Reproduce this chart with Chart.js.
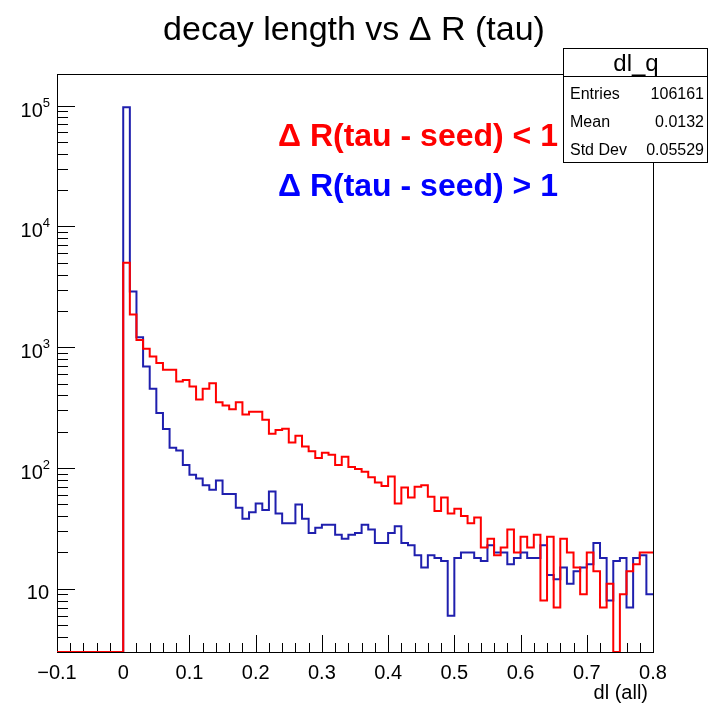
<!DOCTYPE html>
<html>
<head>
<meta charset="utf-8">
<title>decay length vs dR (tau)</title>
<script src="https://cdn.jsdelivr.net/npm/chart.js@4.4.1/dist/chart.umd.min.js"></script>
<style>
  html, body { margin: 0; padding: 0; background: #fff; }
  #wrap { width: 709px; height: 705px; }
</style>
</head>
<body>
<div id="wrap"><canvas id="dl_chart" width="709" height="705"></canvas></div>
<script>
var FONT = '"Liberation Sans", Arial, Helvetica, sans-serif';

// binning of the dl histograms: 90 bins of 0.01 starting at -0.1
var bin_low = -0.1;
var bin_width = 0.01;

// bin contents, dR(tau - seed) < 1
var counts_close = [
    0, 0, 0, 0, 0, 0, 0, 0, 0, 0,
    5000, 1870, 1150, 970, 840, 740, 650, 650, 520, 537,
    473, 369, 453, 503, 351, 329, 307, 351, 277, 292,
    292, 251, 192, 207, 212, 163, 185, 151, 138, 121,
    134, 129, 106, 124, 102, 98, 93, 84, 76, 71,
    85, 51, 69, 57, 70, 72, 58, 44, 57, 42,
    46, 40, 35, 39, 22, 26, 19, 22, 31, 20,
    27, 22, 28, 8, 27, 7, 26, 20, 15, 9,
    20, 14, 7, 11, 0, 9, 14, 16, 20, 20
];

// bin contents, dR(tau - seed) > 1
var counts_far = [
    0, 0, 0, 0, 0, 0, 0, 0, 0, 0,
    97000, 2890, 1210, 692, 453, 286, 211, 147, 140, 106,
    88, 82, 72, 66, 79, 61, 61, 47, 38, 43,
    51, 45, 64, 42, 35, 35, 50, 38, 29, 32,
    34, 34, 28, 26, 28, 29, 34, 31, 24, 24,
    29, 33, 24, 23, 19, 15, 19, 18, 17, 6,
    18, 20, 20, 18, 17, 23, 20, 20, 16, 18,
    20, 18, 18, 23, 13, 12, 15, 11, 14, 15,
    16, 24, 18, 8, 17, 18, 7, 18, 19, 9
];

// axis ranges and labels
var x_range = [-0.1, 0.8];
var y_range = [3, 1.83e5];
var x_ticks = [-0.1, 0, 0.1, 0.2, 0.3, 0.4, 0.5, 0.6, 0.7, 0.8];
var x_tick_labels = ["\u22120.1", "0", "0.1", "0.2", "0.3", "0.4", "0.5", "0.6", "0.7", "0.8"];
var y_ticks = [10, 100, 1000, 10000, 100000];
var y_tick_exponents = ["", "2", "3", "4", "5"];

// stats box of dl_q
var stats_name = "dl_q";
var stats_rows = [["Entries", "106161"], ["Mean", "0.0132"], ["Std Dev", "0.05529"]];

var legend_rows = [
    { text: "R(tau - seed) < 1", color: "#ff0000" },
    { text: "R(tau - seed) > 1", color: "#0000ff" }
];

/*
############################## Histogram helpers ##############################
*/

// turn bin contents into step points; empty bins sit on the axis floor like in ROOT
function histogram_points(counts) {
    let points = [];
    for (let i = 0; i < counts.length; i++) {
        points.push({
            x: bin_low + i * bin_width,
            y: counts[i] > 0 ? counts[i] : y_range[0]
        });
    }
    points.push({ x: bin_low + counts.length * bin_width, y: points[points.length - 1].y });
    return points;
}

function histogram_dataset(label, counts, color) {
    return {
        label: label,
        data: histogram_points(counts),
        borderColor: color,
        borderWidth: 2,
        // horizontal first, then the vertical step at the next bin edge
        stepped: 'before',
        pointRadius: 0,
        fill: false,
        tension: 0,
        borderJoinStyle: 'miter'
    };
}

/*
############################## ROOT-like frame ##############################
*/
var root_frame = {
    id: 'root_frame',
    beforeDatasetsDraw(chart) {
        const ctx = chart.ctx;
        const a = chart.chartArea;
        const xs = chart.scales.x;
        const ys = chart.scales.y;

        ctx.save();
        ctx.strokeStyle = "#000";
        ctx.lineWidth = 1;
        ctx.beginPath();

        // x axis ticks, inside the frame
        for (let i = 0; i < x_ticks.length; i++) {
            let px = Math.round(xs.getPixelForValue(x_ticks[i])) + 0.5;
            ctx.moveTo(px, a.bottom);
            ctx.lineTo(px, a.bottom - 17);
            if (i == x_ticks.length - 1) break;
            for (let k = 1; k < 5; k++) {
                let mx = Math.round(xs.getPixelForValue(x_ticks[i] + k * 0.02)) + 0.5;
                ctx.moveTo(mx, a.bottom);
                ctx.lineTo(mx, a.bottom - 9);
            }
        }

        // log y axis ticks
        let decade = 1;
        while (decade <= y_range[1]) {
            for (let m = 1; m < 10; m++) {
                let v = m * decade;
                if (v < y_range[0] || v > y_range[1]) continue;
                let py = Math.round(ys.getPixelForValue(v)) + 0.5;
                ctx.moveTo(a.left, py);
                ctx.lineTo(a.left + (m == 1 ? 18 : 11), py);
            }
            decade *= 10;
        }
        ctx.stroke();

        ctx.strokeRect(a.left + 0.5, a.top + 0.5, a.right - a.left, a.bottom - a.top);
        ctx.restore();
    },
    afterDraw(chart) {
        const ctx = chart.ctx;
        const xs = chart.scales.x;
        const ys = chart.scales.y;

        ctx.save();
        ctx.fillStyle = "#000";

        // x tick labels
        ctx.font = "20px " + FONT;
        ctx.textAlign = "center";
        ctx.textBaseline = "alphabetic";
        x_ticks.forEach((v, i) => {
            ctx.fillText(x_tick_labels[i], xs.getPixelForValue(v), 679);
        });

        // y tick labels, 10 with superscript exponent
        ctx.textAlign = "right";
        y_ticks.forEach((v, i) => {
            let py = ys.getPixelForValue(v);
            let exp = y_tick_exponents[i];
            if (exp == "") {
                ctx.font = "20px " + FONT;
                ctx.fillText("10", 49, py + 10);
            } else {
                ctx.font = "13px " + FONT;
                ctx.fillText(exp, 50, py + 1);
                let w = ctx.measureText(exp).width;
                ctx.font = "20px " + FONT;
                ctx.fillText("10", 50 - w, py + 11);
            }
        });

        // x axis title
        ctx.font = "20px " + FONT;
        ctx.fillText("dl (all)", 648, 699);

        // title
        ctx.textAlign = "center";
        ctx.font = "34px " + FONT;
        ctx.fillText("decay length vs \u0394 R (tau)", 354, 40);

        // legend lines
        ctx.textAlign = "left";
        ctx.font = "bold 32px " + FONT;
        legend_rows.forEach((row, i) => {
            ctx.fillStyle = row.color;
            ctx.fillText("\u0394 " + row.text, 278, 146 + i * 50);
        });

        // stats box
        ctx.fillStyle = "#fff";
        ctx.fillRect(563, 48, 145, 115);
        ctx.strokeStyle = "#000";
        ctx.lineWidth = 1;
        ctx.strokeRect(563.5, 48.5, 144, 114);
        ctx.beginPath();
        ctx.moveTo(563.5, 76.5);
        ctx.lineTo(707.5, 76.5);
        ctx.stroke();

        ctx.fillStyle = "#000";
        ctx.textAlign = "center";
        ctx.font = "24px " + FONT;
        ctx.fillText(stats_name, 636, 71);

        ctx.font = "16px " + FONT;
        stats_rows.forEach((row, i) => {
            let by = 99 + i * 28;
            ctx.textAlign = "left";
            ctx.fillText(row[0], 570, by);
            ctx.textAlign = "right";
            ctx.fillText(row[1], 704, by);
        });
        ctx.restore();
    }
};

function draw_dl_chart() {
    var ctx = document.getElementById("dl_chart");

    return new Chart(ctx, {
        type: 'line',
        data: {
            datasets: [
                histogram_dataset("dR(tau - seed) < 1", counts_close, "#ff0000"),
                histogram_dataset("dR(tau - seed) > 1", counts_far, "#1f1fae")
            ]
        },
        options: {
            responsive: false,
            animation: false,
            layout: {
                padding: { left: 57, top: 74, right: 56, bottom: 53 }
            },
            scales: {
                x: { type: 'linear', min: x_range[0], max: x_range[1], display: false },
                y: { type: 'logarithmic', min: y_range[0], max: y_range[1], display: false }
            },
            plugins: {
                legend: { display: false },
                tooltip: { enabled: false },
                title: { display: false }
            }
        },
        plugins: [root_frame]
    });
}

draw_dl_chart();
</script>
</body>
</html>
